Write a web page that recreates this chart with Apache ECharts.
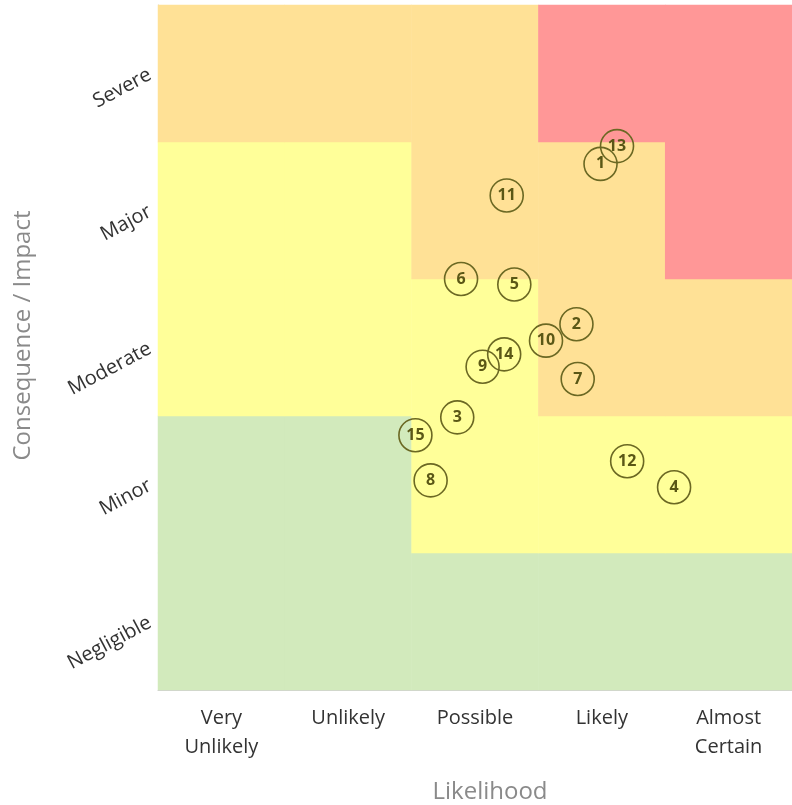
<!DOCTYPE html>
<html>
<head>
<meta charset="utf-8">
<script src="https://cdn.jsdelivr.net/npm/echarts@6/dist/echarts.min.js"></script>
<style>html,body{margin:0;padding:0;background:#fff}#c{width:792px;height:805px}</style>
</head>
<body>
<div id="c"></div>
<script>
var likelihood = ['Very\nUnlikely', 'Unlikely', 'Possible', 'Likely', 'Almost\nCertain'];
var consequence = ['Negligible', 'Minor', 'Moderate', 'Major', 'Severe'];
// risk level per cell: rows bottom (Negligible) to top (Severe), columns left to right
// 0 = green, 1 = yellow, 2 = orange, 3 = red
var riskLevels = [
  [0, 0, 0, 0, 0],
  [0, 0, 1, 1, 1],
  [1, 1, 1, 2, 2],
  [1, 1, 2, 2, 3],
  [2, 2, 2, 3, 3]
];
var riskIds = ['1','2','3','4','5','6','7','8','9','10','11','12','13','14','15'];
var riskX = [3.49, 3.30, 2.36, 4.07, 2.81, 2.39, 3.31, 2.15, 2.56, 3.06, 2.75, 3.70, 3.62, 2.73, 2.03];
var riskY = [3.84, 2.67, 1.99, 1.48, 2.96, 3.00, 2.27, 1.53, 2.36, 2.55, 3.61, 1.67, 3.97, 2.45, 1.86];

var cells = [];
for (var r = 0; r < riskLevels.length; r++) {
  for (var c = 0; c < riskLevels[r].length; c++) {
    cells.push([c, r, riskLevels[r][c]]);
  }
}
var points = riskIds.map(function (id, i) { return [riskX[i], riskY[i], id]; });

var chart = echarts.init(document.getElementById('c'));
chart.setOption({
  animation: false,
  grid: { left: 158, top: 5, right: 0, bottom: 115, containLabel: false, outerBoundsMode: 'none' },
  xAxis: [{
    type: 'category', data: likelihood,
    name: 'Likelihood', nameLocation: 'middle', nameGap: 90,
    nameTextStyle: { color: '#8a8a8a', fontSize: 24, fontFamily: 'Open Sans', padding: [0, 0, 0, 30] },
    axisLine: { lineStyle: { color: '#d0d0d0' } },
    axisTick: { show: false },
    axisLabel: { color: '#333', fontSize: 20, fontFamily: 'Open Sans', lineHeight: 29, margin: 14 },
    splitLine: { show: false }
  }, {
    type: 'value', min: 0, max: 5, show: false
  }],
  yAxis: [{
    type: 'category', data: consequence,
    name: 'Consequence / Impact', nameLocation: 'middle', nameGap: 123,
    nameTextStyle: { color: '#8a8a8a', fontSize: 24, fontFamily: 'Open Sans', padding: [0, 0, 0, 24] },
    axisLine: { lineStyle: { color: '#d0d0d0' } },
    axisTick: { show: false },
    axisLabel: { color: '#333', fontSize: 20, fontFamily: 'Open Sans', rotate: 28, margin: 8 },
    splitLine: { show: false }
  }, {
    type: 'value', min: 0, max: 5, show: false
  }],
  visualMap: {
    type: 'piecewise', show: false, dimension: 2, seriesIndex: 0,
    pieces: [
      { value: 0, color: '#D2EABC' },
      { value: 1, color: '#FFFF99' },
      { value: 2, color: '#FFE196' },
      { value: 3, color: '#FF9797' }
    ]
  },
  series: [{
    type: 'heatmap', xAxisIndex: 0, yAxisIndex: 0, data: cells,
    itemStyle: { borderWidth: 0 }, label: { show: false }, emphasis: { disabled: true }
  }, {
    type: 'scatter', xAxisIndex: 1, yAxisIndex: 1, data: points,
    symbol: 'circle', symbolSize: 33,
    itemStyle: { color: 'rgba(0,0,0,0)', borderColor: '#6b6823', borderWidth: 1.6, opacity: 1 },
    label: {
      show: true, position: 'inside', color: '#5a5716', fontSize: 16, fontWeight: 'bold',
      fontFamily: 'Noto Sans',
      formatter: function (p) { return p.value[2]; }
    }
  }]
});
</script>
</body>
</html>
